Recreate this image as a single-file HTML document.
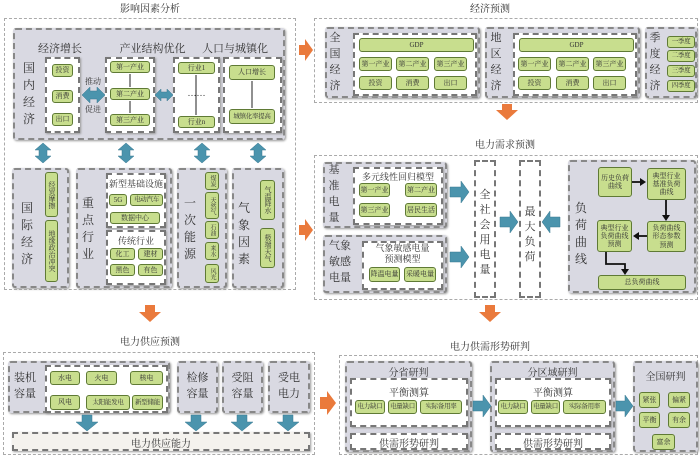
<!DOCTYPE html>
<html><head><meta charset="utf-8"><style>
body{margin:0;width:700px;height:457px;background:#fff;position:relative;overflow:hidden;font-family:"Liberation Serif","Noto Serif CJK SC","Noto Sans CJK SC",serif;color:#333}
div{position:absolute;box-sizing:border-box}
.o{border:1px dashed #aaa;background:#fff}
.g{border:2px dashed #888;background:#d9d9e2;border-radius:3px;box-shadow:1px 1px 2px #999}
.w{border:2px dashed #777;background:#fff;box-shadow:1px 1px 2px #999}
.i{background:#c8de8e;border:1.5px solid #5f7a35;border-radius:3px;font-size:7px;display:flex;align-items:center;justify-content:center;text-align:center;line-height:1.15;color:#333;overflow:hidden}
.n{white-space:nowrap;font-size:6.5px;letter-spacing:-0.3px}
.vt{writing-mode:vertical-rl;font-size:6px;line-height:1}
.t{font-size:10px;text-align:center;white-space:nowrap}
.v{font-size:12px;line-height:17px;text-align:center;width:14px}
.s{font-size:9px}
</style></head><body>
<div class="t" style="left:100px;top:0;width:100px">影响因素分析</div>
<div class="t" style="left:440px;top:0;width:100px">经济预测</div>
<div class="t" style="left:455px;top:136px;width:100px">电力需求预测</div>
<div class="t" style="left:100px;top:333px;width:100px">电力供应预测</div>
<div class="t" style="left:430px;top:338px;width:120px">电力供需形势研判</div>

<div class="o" style="left:4px;top:18px;width:292px;height:272px"></div>
<div class="g" style="left:13px;top:28px;width:272px;height:112px"></div>
<div class="t" style="left:35px;top:40px;width:50px;font-size:11px">经济增长</div>
<div class="t" style="left:115px;top:40px;width:75px;font-size:11px">产业结构优化</div>
<div class="t" style="left:200px;top:40px;width:70px;font-size:11px">人口与城镇化</div>
<div class="v" style="left:22px;top:60px">国<br>内<br>经<br>济</div>
<div class="w" style="left:45px;top:57px;width:35px;height:76px"></div>
<div class="i" style="left:52px;top:64px;width:21px;height:13px">投资</div>
<div class="i" style="left:52px;top:90px;width:21px;height:13px">消费</div>
<div class="i" style="left:52px;top:113px;width:21px;height:13px">出口</div>
<div class="t s" style="left:82px;top:76px;width:22px;font-size:8px">推动</div>
<div class="t s" style="left:82px;top:104px;width:22px;font-size:8px">促进</div>
<div class="w" style="left:105px;top:57px;width:50px;height:76px"></div>
<div class="i" style="left:110px;top:61px;width:40px;height:12px">第一产业</div>
<div class="i" style="left:110px;top:88px;width:40px;height:12px">第二产业</div>
<div class="i" style="left:110px;top:114px;width:40px;height:12px">第三产业</div>
<div class="w" style="left:173px;top:57px;width:47px;height:76px"></div>
<div class="i" style="left:178px;top:62px;width:37px;height:12px">行业1</div>
<div class="t s" style="left:180px;top:88px;width:33px">……</div>
<div class="i" style="left:178px;top:116px;width:37px;height:12px">行业n</div>
<div class="w" style="left:223px;top:57px;width:59px;height:76px"></div>
<div class="i" style="left:229px;top:65px;width:46px;height:15px">人口增长</div>
<div class="i n" style="left:229px;top:109px;width:46px;height:15px">城镇化率提高</div>

<div class="g" style="left:12px;top:168px;width:57px;height:120px"></div>
<div class="v" style="left:20px;top:200px">国<br>际<br>经<br>济</div>
<div class="i vt" style="left:45px;top:172px;width:13px;height:45px;font-size:7px">经贸摩擦</div>
<div class="i vt" style="left:45px;top:220px;width:13px;height:62px;font-size:7px">地缘政治冲突</div>
<div class="g" style="left:76px;top:168px;width:96px;height:120px"></div>
<div class="v" style="left:81px;top:195px">重<br>点<br>行<br>业</div>
<div class="w" style="left:106px;top:173px;width:60px;height:55px"></div>
<div class="t" style="left:106px;top:177px;width:60px;font-size:9px">新型基础设施</div>
<div class="i" style="left:109px;top:194px;width:18px;height:12px">5G</div>
<div class="i n" style="left:130px;top:194px;width:33px;height:12px">电动汽车</div>
<div class="i" style="left:110px;top:212px;width:50px;height:12px">数据中心</div>
<div class="w" style="left:106px;top:230px;width:60px;height:55px"></div>
<div class="t" style="left:106px;top:234px;width:60px;font-size:9px">传统行业</div>
<div class="i" style="left:110px;top:248px;width:25px;height:12px">化工</div>
<div class="i" style="left:138px;top:248px;width:25px;height:12px">建材</div>
<div class="i" style="left:110px;top:264px;width:25px;height:12px">黑色</div>
<div class="i" style="left:138px;top:264px;width:25px;height:12px">有色</div>
<div class="g" style="left:177px;top:168px;width:50px;height:120px"></div>
<div class="v" style="left:183px;top:195px">一<br>次<br>能<br>源</div>
<div class="i vt" style="left:205px;top:172px;width:14px;height:18px">煤炭</div>
<div class="i vt" style="left:205px;top:192px;width:14px;height:27px">天然气</div>
<div class="i vt" style="left:205px;top:221px;width:14px;height:18px">石油</div>
<div class="i vt" style="left:205px;top:242px;width:14px;height:18px">来水</div>
<div class="i vt" style="left:205px;top:264px;width:14px;height:19px">风光</div>
<div class="g" style="left:232px;top:168px;width:52px;height:120px"></div>
<div class="v" style="left:237px;top:200px">气<br>象<br>因<br>素</div>
<div class="i vt" style="left:260px;top:180px;width:15px;height:40px;font-size:7px">气温降水</div>
<div class="i vt" style="left:260px;top:228px;width:15px;height:40px;font-size:7px">极端天气</div>

<div class="o" style="left:314px;top:18px;width:384px;height:85px"></div>
<div class="g" style="left:325px;top:27px;width:155px;height:71px"></div>
<div class="v" style="left:328px;top:30px;font-size:11px;line-height:16px">全<br>国<br>经<br>济</div>
<div class="w" style="left:353px;top:33px;width:124px;height:63px"></div>
<div class="i" style="left:359px;top:38px;width:115px;height:14px">GDP</div>
<div class="i" style="left:359px;top:57px;width:33px;height:14px">第一产业</div>
<div class="i" style="left:396px;top:57px;width:33px;height:14px">第二产业</div>
<div class="i" style="left:434px;top:57px;width:33px;height:14px">第三产业</div>
<div class="i" style="left:359px;top:76px;width:33px;height:14px">投资</div>
<div class="i" style="left:396px;top:76px;width:33px;height:14px">消费</div>
<div class="i" style="left:434px;top:76px;width:33px;height:14px">出口</div>
<div class="g" style="left:485px;top:27px;width:155px;height:71px"></div>
<div class="v" style="left:489px;top:30px;font-size:11px;line-height:16px">地<br>区<br>经<br>济</div>
<div class="w" style="left:513px;top:33px;width:124px;height:63px"></div>
<div class="i" style="left:519px;top:38px;width:115px;height:14px">GDP</div>
<div class="i" style="left:518px;top:57px;width:33px;height:14px">第一产业</div>
<div class="i" style="left:556px;top:57px;width:33px;height:14px">第二产业</div>
<div class="i" style="left:593px;top:57px;width:33px;height:14px">第三产业</div>
<div class="i" style="left:518px;top:76px;width:33px;height:14px">投资</div>
<div class="i" style="left:556px;top:76px;width:33px;height:14px">消费</div>
<div class="i" style="left:593px;top:76px;width:33px;height:14px">出口</div>
<div class="g" style="left:645px;top:27px;width:52px;height:71px"></div>
<div class="v" style="left:648px;top:30px;font-size:11px;line-height:16px">季<br>度<br>经<br>济</div>
<div class="i n" style="left:667px;top:36px;width:28px;height:12px">一季度</div>
<div class="i n" style="left:667px;top:50px;width:28px;height:12px">二季度</div>
<div class="i n" style="left:667px;top:65px;width:28px;height:12px">三季度</div>
<div class="i n" style="left:667px;top:80px;width:28px;height:12px">四季度</div>

<div class="o" style="left:314px;top:155px;width:384px;height:145px"></div>
<div class="g" style="left:323px;top:162px;width:124px;height:66px"></div>
<div class="v" style="left:327px;top:162px;font-size:11px;line-height:16px">基<br>准<br>电<br>量</div>
<div class="w" style="left:353px;top:167px;width:90px;height:58px"></div>
<div class="t" style="left:353px;top:170px;width:90px;font-size:9px">多元线性回归模型</div>
<div class="i" style="left:359px;top:183px;width:31px;height:14px">第一产业</div>
<div class="i" style="left:405px;top:183px;width:32px;height:14px">第二产业</div>
<div class="i" style="left:359px;top:203px;width:31px;height:14px">第三产业</div>
<div class="i" style="left:405px;top:203px;width:32px;height:14px">居民生活</div>
<div class="g" style="left:323px;top:235px;width:124px;height:58px"></div>
<div class="t" style="left:325px;top:238px;width:30px;font-size:11px;line-height:16px">气象<br>敏感<br>电量</div>
<div class="w" style="left:362px;top:241px;width:81px;height:49px"></div>
<div class="t" style="left:362px;top:243px;width:81px;font-size:9px;line-height:11px">气象敏感电量<br>预测模型</div>
<div class="i" style="left:369px;top:267px;width:31px;height:15px">降温电量</div>
<div class="i" style="left:404px;top:267px;width:32px;height:15px">采暖电量</div>
<div class="w" style="left:474px;top:160px;width:22px;height:138px;box-shadow:none"></div>
<div class="v" style="left:478px;top:188px;font-size:11px;line-height:15px">全<br>社<br>会<br>用<br>电<br>量</div>
<div class="w" style="left:519px;top:160px;width:22px;height:138px;box-shadow:none"></div>
<div class="v" style="left:523px;top:205px;font-size:11px;line-height:15px">最<br>大<br>负<br>荷</div>
<div class="g" style="left:568px;top:160px;width:128px;height:133px"></div>
<div class="v" style="left:574px;top:200px">负<br>荷<br>曲<br>线</div>
<div class="i" style="left:598px;top:167px;width:34px;height:30px">历史负荷<br>曲线</div>
<div class="i" style="left:647px;top:168px;width:39px;height:32px">典型行业<br>基准负荷<br>曲线</div>
<div class="i" style="left:647px;top:221px;width:39px;height:31px">负荷曲线<br>形态参数<br>预测</div>
<div class="i" style="left:597px;top:220px;width:35px;height:32px">典型行业<br>负荷曲线<br>预测</div>
<div class="i" style="left:598px;top:275px;width:88px;height:15px">总负荷曲线</div>

<div class="o" style="left:3px;top:352px;width:312px;height:103px"></div>
<div class="g" style="left:8px;top:361px;width:162px;height:52px"></div>
<div class="t" style="left:9px;top:370px;width:32px;font-size:11px;line-height:16px">装机<br>容量</div>
<div class="w" style="left:45px;top:365px;width:123px;height:48px"></div>
<div class="i" style="left:50px;top:371px;width:30px;height:14px">水电</div>
<div class="i" style="left:86px;top:371px;width:31px;height:14px">火电</div>
<div class="i" style="left:130px;top:371px;width:33px;height:14px">核电</div>
<div class="i" style="left:50px;top:395px;width:30px;height:15px">风电</div>
<div class="i n" style="left:86px;top:395px;width:44px;height:15px">太阳能发电</div>
<div class="i n" style="left:132px;top:395px;width:31px;height:15px">新型储能</div>
<div class="g" style="left:177px;top:361px;width:41px;height:52px"></div>
<div class="t" style="left:177px;top:370px;width:41px;font-size:11px;line-height:16px">检修<br>容量</div>
<div class="g" style="left:222px;top:361px;width:41px;height:52px"></div>
<div class="t" style="left:222px;top:370px;width:41px;font-size:11px;line-height:16px">受阻<br>容量</div>
<div class="g" style="left:268px;top:361px;width:42px;height:52px"></div>
<div class="t" style="left:268px;top:370px;width:42px;font-size:11px;line-height:16px">受电<br>电力</div>
<div class="w" style="left:12px;top:432px;width:298px;height:19px;background:#f4f2ee"></div>
<div class="t" style="left:12px;top:435px;width:298px;font-size:10px">电力供应能力</div>

<div class="o" style="left:339px;top:355px;width:359px;height:100px"></div>
<div class="g" style="left:345px;top:361px;width:127px;height:91px"></div>
<div class="t" style="left:345px;top:364px;width:127px;font-size:10px">分省研判</div>
<div class="w" style="left:350px;top:378px;width:118px;height:49px"></div>
<div class="t" style="left:350px;top:384px;width:118px;font-size:10px">平衡测算</div>
<div class="i n" style="left:355px;top:400px;width:30px;height:14px">电力缺口</div>
<div class="i n" style="left:388px;top:400px;width:29px;height:14px">电量缺口</div>
<div class="i n" style="left:420px;top:400px;width:42px;height:14px">实际备用率</div>
<div class="w" style="left:350px;top:433px;width:118px;height:17px;background:#fff"></div>
<div class="t" style="left:350px;top:435px;width:118px;font-size:10px">供需形势研判</div>
<div class="g" style="left:490px;top:361px;width:125px;height:91px"></div>
<div class="t" style="left:490px;top:364px;width:125px;font-size:10px">分区域研判</div>
<div class="w" style="left:495px;top:378px;width:116px;height:49px"></div>
<div class="t" style="left:495px;top:384px;width:116px;font-size:10px">平衡测算</div>
<div class="i n" style="left:498px;top:400px;width:30px;height:14px">电力缺口</div>
<div class="i n" style="left:531px;top:400px;width:29px;height:14px">电量缺口</div>
<div class="i n" style="left:563px;top:400px;width:43px;height:14px">实际备用率</div>
<div class="w" style="left:495px;top:433px;width:116px;height:17px;background:#fff"></div>
<div class="t" style="left:495px;top:435px;width:116px;font-size:10px">供需形势研判</div>
<div class="g" style="left:633px;top:361px;width:65px;height:91px"></div>
<div class="t" style="left:633px;top:368px;width:65px;font-size:10px">全国研判</div>
<div class="i" style="left:639px;top:392px;width:21px;height:16px">紧张</div>
<div class="i" style="left:668px;top:392px;width:22px;height:16px">偏紧</div>
<div class="i" style="left:639px;top:412px;width:21px;height:16px">平衡</div>
<div class="i" style="left:668px;top:412px;width:22px;height:16px">有余</div>
<div class="i" style="left:652px;top:434px;width:23px;height:16px">富余</div>

<svg width="700" height="457" style="position:absolute;left:0;top:0">
<g fill="#4b94ad" stroke="#3a7890" stroke-width=".5">
<polygon points="82,95 90,87 90,91 97,91 97,87 105,95 97,103 97,99 90,99 90,103"/>
<polygon points="155,95 161,89 161,92 167,92 167,89 173,95 167,101 167,98 161,98 161,101"/>
<polygon points="43,143 51,150 47,150 47,156 51,156 43,163 35,156 39,156 39,150 35,150"/>
<polygon points="126,143 134,150 130,150 130,156 134,156 126,163 118,156 122,156 122,150 118,150"/>
<polygon points="202,143 210,150 206,150 206,156 210,156 202,163 194,156 198,156 198,150 194,150"/>
<polygon points="258,143 266,150 262,150 262,156 266,156 258,163 250,156 254,156 254,150 250,150"/>
<polygon points="450,187 461,187 461,181 469,192 461,203 461,197 450,197"/>
<polygon points="450,252 461,252 461,246 469,257 461,268 461,262 450,262"/>
<polygon points="500,217 510,217 510,211 518,222 510,233 510,227 500,227"/>
<polygon points="560,217 550,217 550,211 542,222 550,233 550,227 560,227"/>
<polygon points="82,415 92,415 92,422 98,422 87,431 76,422 82,422"/>
<polygon points="191,415 201,415 201,422 207,422 196,431 185,422 191,422"/>
<polygon points="237,415 247,415 247,422 253,422 242,431 231,422 237,422"/>
<polygon points="283,415 293,415 293,422 299,422 288,431 277,422 283,422"/>
<polygon points="473,401 483,401 483,395 491,406 483,417 483,411 473,411"/>
<polygon points="616,401 625,401 625,395 633,406 625,417 625,411 616,411"/>
</g>
<g fill="#ea7a3c">
<polygon points="299,45 305,45 305,39 313,50 305,61 305,55 299,55"/>
<polygon points="299,225 305,225 305,219 313,230 305,241 305,235 299,235"/>
<polygon points="320,397 327,397 327,391 336,403 327,415 327,409 320,409"/>
<polygon points="145,305 155,305 155,312 161,312 150,322 139,312 145,312"/>
<polygon points="502,104 512,104 512,110 518,110 507,120 496,110 502,110"/>
<polygon points="485,305 495,305 495,312 501,312 490,322 479,312 485,312"/>
</g>
<g stroke="#222" stroke-width="1" fill="#222">
<line x1="130" y1="74" x2="130" y2="87"/><line x1="130" y1="101" x2="130" y2="113"/>
<line x1="196" y1="75" x2="196" y2="115"/>
<line x1="252" y1="81" x2="252" y2="108"/>
</g>
<g stroke="#111" stroke-width="1.8" fill="none">
<line x1="632" y1="182" x2="641" y2="182"/>
<line x1="666" y1="200" x2="666" y2="216"/>
<line x1="647" y1="236" x2="638" y2="236"/>
<polyline points="606,252 606,264 625,264 625,270"/>
</g>
<g fill="#111">
<polygon points="646,182 640,178 640,186"/>
<polygon points="666,221 662,215 670,215"/>
<polygon points="633,236 639,232 639,240"/>
<polygon points="625,275 621,269 629,269"/>
</g>
</svg>
</body></html>
